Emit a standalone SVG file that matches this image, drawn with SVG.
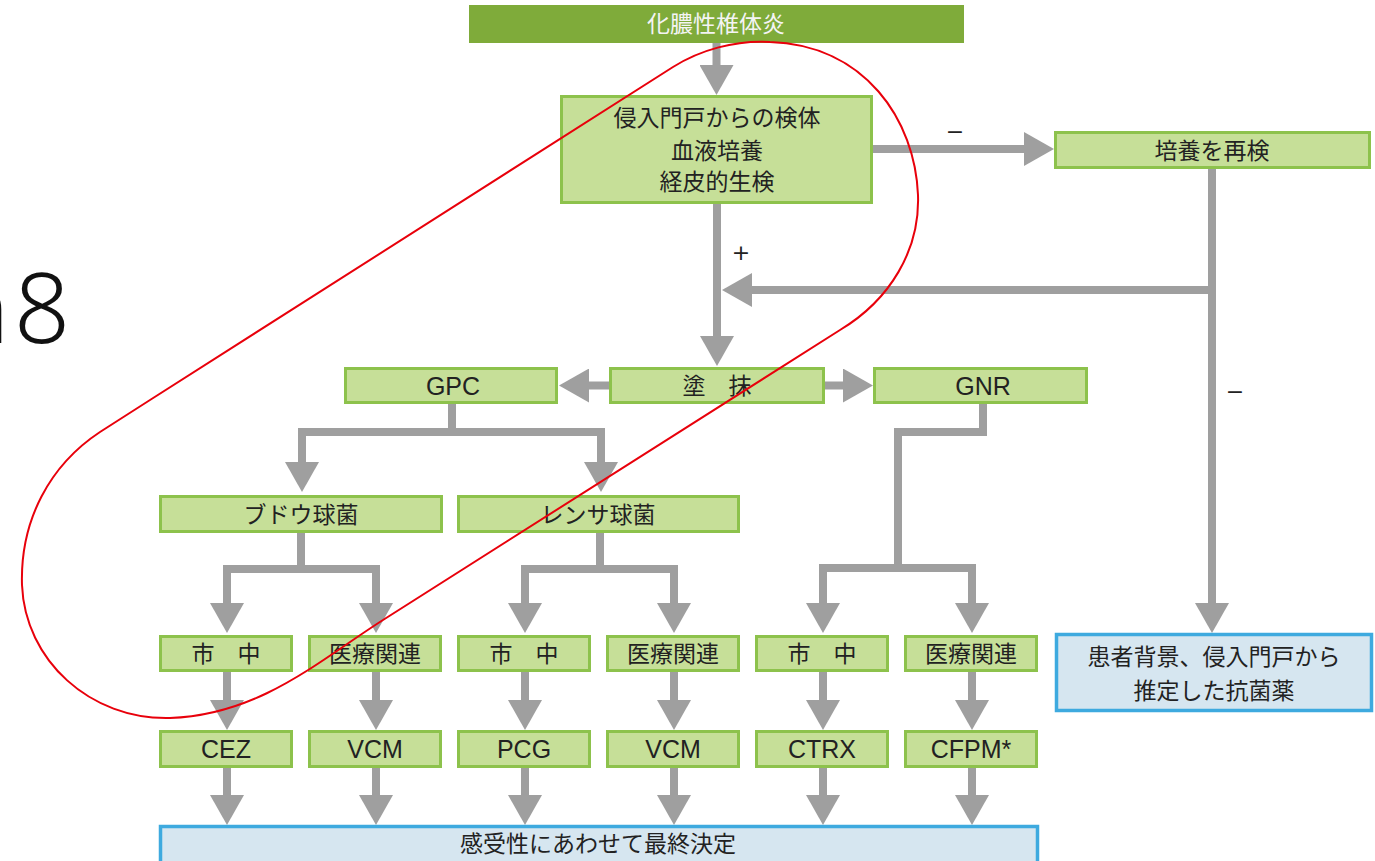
<svg xmlns="http://www.w3.org/2000/svg" width="1375" height="861" viewBox="0 0 1375 861">
<defs>
<marker id="ah" viewBox="0 0 30 34" markerWidth="3.75" markerHeight="4.25" refX="0" refY="17" orient="auto" markerUnits="strokeWidth">
<path d="M0,0 L30,17 L0,34 z" fill="#9f9f9f"/>
</marker>
</defs>
<style>
.g{fill:#c6df98;stroke:#8dc24c;stroke-width:3}
.b{fill:#d6e6f0;stroke:#3eaadf;stroke-width:3.5}
.t{font-family:"Liberation Sans","Noto Sans CJK JP",sans-serif;font-size:23px;fill:#222;text-anchor:middle;dominant-baseline:central}
.l{font-size:25px}
.c{fill:none;stroke:#9f9f9f;stroke-width:8;stroke-linejoin:miter;marker-end:url(#ah)}
.s{font-family:"DejaVu Sans",sans-serif;font-size:22px;fill:#222;text-anchor:middle;dominant-baseline:central}
</style>
<rect width="1375" height="861" fill="#ffffff"/>

<text x="-49" y="343" font-family="Noto Sans, sans-serif" font-size="98" font-weight="300" fill="#111">n<tspan x="14">8</tspan></text>

<g id="connectors">
<path class="c" d="M716.5,43 V65"/>
<path class="c" d="M873,149 H1024"/>
<path class="c" d="M1212,169 V603"/>
<path class="c" d="M1212,290 H752"/>
<path class="c" d="M717,204 V336"/>
<path class="c" d="M609,385.5 H589"/>
<path class="c" d="M825,385.5 H843"/>
<path class="c" d="M452,404 V432 H302 V462"/>
<path class="c" d="M452,432 H601 V462"/>
<path class="c" d="M301,533 V569 H227 V603"/>
<path class="c" d="M301,569 H376 V603"/>
<path class="c" d="M600,533 V569 H525 V603"/>
<path class="c" d="M600,569 H674 V603"/>
<path class="c" d="M983,404 V432 H898 V568 H823 V603"/>
<path class="c" d="M898,568 H972 V603"/>
<path class="c" d="M227,672 V700"/>
<path class="c" d="M376,672 V700"/>
<path class="c" d="M525,672 V700"/>
<path class="c" d="M674,672 V700"/>
<path class="c" d="M823,672 V700"/>
<path class="c" d="M972,672 V700"/>
<path class="c" d="M227,767 V795"/>
<path class="c" d="M376,767 V795"/>
<path class="c" d="M525,767 V795"/>
<path class="c" d="M674,767 V795"/>
<path class="c" d="M823,767 V795"/>
<path class="c" d="M972,767 V795"/>
<text class="s" x="955" y="131">−</text>
<text class="s" x="741" y="252">+</text>
<text class="s" x="1235" y="391">−</text>
</g>

<g id="n-top">
<rect x="469" y="5" width="495" height="38" fill="#7fab3a"/>
<text class="t" x="716" y="24" style="fill:#f4f4f4">化膿性椎体炎</text>
</g>
<g id="n-specimen">
<rect class="g" x="561.5" y="96.5" width="310" height="106"/>
<text class="t" x="717" y="118">侵入門戸からの検体</text>
<text class="t" x="717" y="151">血液培養</text>
<text class="t" x="717" y="182">経皮的生検</text>
</g>
<g id="n-reculture">
<rect class="g" x="1055.5" y="132.5" width="314" height="35"/>
<text class="t" x="1212" y="151">培養を再検</text>
</g>
<g id="n-smear">
<rect class="g" x="610.5" y="368.5" width="213" height="34"/>
<text class="t" x="717" y="386">塗　抹</text>
</g>
<g id="n-gpc">
<rect class="g" x="345.5" y="368.5" width="211" height="34"/>
<text class="t l" x="453" y="386">GPC</text>
</g>
<g id="n-gnr">
<rect class="g" x="874.5" y="368.5" width="212" height="34"/>
<text class="t l" x="983" y="386">GNR</text>
</g>
<g id="n-staph">
<rect class="g" x="160.5" y="496.5" width="281" height="35"/>
<text class="t" x="301" y="515">ブドウ球菌</text>
</g>
<g id="n-strep">
<rect class="g" x="458.5" y="496.5" width="280" height="35"/>
<text class="t" x="598" y="515">レンサ球菌</text>
</g>
<g id="n-c1"><rect class="g" x="160.5" y="636.5" width="131" height="34"/><text class="t" x="226" y="654">市　中</text></g>
<g id="n-h1"><rect class="g" x="309.5" y="636.5" width="131" height="34"/><text class="t" x="375" y="654">医療関連</text></g>
<g id="n-c2"><rect class="g" x="458.5" y="636.5" width="131" height="34"/><text class="t" x="524" y="654">市　中</text></g>
<g id="n-h2"><rect class="g" x="607.5" y="636.5" width="131" height="34"/><text class="t" x="673" y="654">医療関連</text></g>
<g id="n-c3"><rect class="g" x="756.5" y="636.5" width="131" height="34"/><text class="t" x="822" y="654">市　中</text></g>
<g id="n-h3"><rect class="g" x="905.5" y="636.5" width="131" height="34"/><text class="t" x="971" y="654">医療関連</text></g>
<g id="n-cez"><rect class="g" x="160.5" y="731.5" width="131" height="35"/><text class="t l" x="226" y="749">CEZ</text></g>
<g id="n-vcm1"><rect class="g" x="309.5" y="731.5" width="131" height="35"/><text class="t l" x="375" y="749">VCM</text></g>
<g id="n-pcg"><rect class="g" x="458.5" y="731.5" width="131" height="35"/><text class="t l" x="524" y="749">PCG</text></g>
<g id="n-vcm2"><rect class="g" x="607.5" y="731.5" width="131" height="35"/><text class="t l" x="673" y="749">VCM</text></g>
<g id="n-ctrx"><rect class="g" x="756.5" y="731.5" width="131" height="35"/><text class="t l" x="822" y="749">CTRX</text></g>
<g id="n-cfpm"><rect class="g" x="905.5" y="731.5" width="131" height="35"/><text class="t l" x="971" y="749">CFPM*</text></g>
<g id="n-empiric">
<rect class="b" x="1056.5" y="634.5" width="315" height="76"/>
<text class="t" x="1214" y="657">患者背景、侵入門戸から</text>
<text class="t" x="1214" y="691">推定した抗菌薬</text>
</g>
<g id="n-final">
<rect class="b" x="160.5" y="826.5" width="877" height="40"/>
<text class="t" x="598" y="844">感受性にあわせて最終決定</text>
</g>

<path d="M150,400 L673,67 C700,50 735,40 770,42 C865,45 915,120 918,195 C920,250 890,300 840,330 L383,620 C320,660 260,715 170,718 C90,720 25,660 22,585 C20,520 50,465 100,432 Z" fill="none" stroke="#e8000b" stroke-width="2"/>
</svg>
